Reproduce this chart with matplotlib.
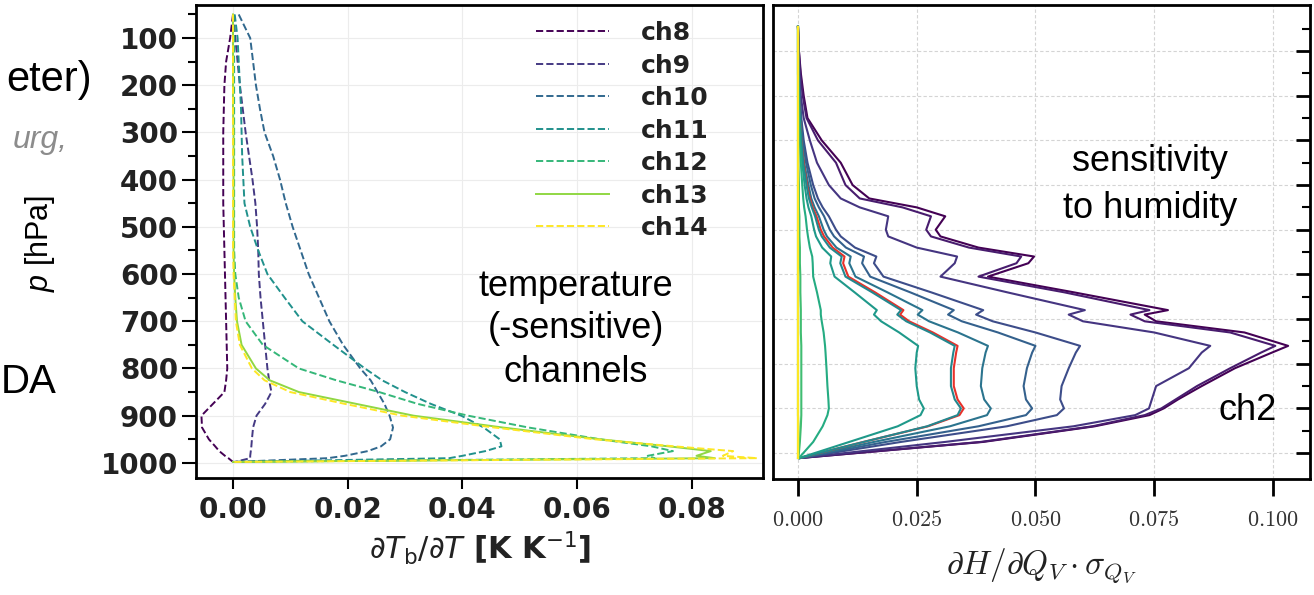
import numpy as np
import matplotlib
matplotlib.use('Agg')
import matplotlib.pyplot as plt
from matplotlib.ticker import FuncFormatter

plt.rcParams['mathtext.fontset'] = 'cm'
plt.rcParams['mathtext.rm'] = 'Liberation Sans'
plt.rcParams['mathtext.it'] = 'Liberation Sans:italic'

# --- temperature jacobians (left) ---
p_temp = [50, 100, 150, 200, 250, 300, 350, 400, 450, 500, 550, 600, 650, 700,
          750, 800, 825, 850, 875, 900, 925, 950, 965, 975, 985, 990, 998]
temp_names = ['ch8', 'ch9', 'ch10', 'ch11', 'ch12', 'ch13', 'ch14']
jac_ch8 = [0.0, -0.0005, -0.0012, -0.0015, -0.0016, -0.0017, -0.0017, -0.0017, -0.0017,
           -0.0016, -0.0015, -0.0014, -0.0013, -0.0012, -0.0011, -0.0010, -0.0012, -0.0015,
           -0.0035, -0.0055, -0.0054, -0.0042, -0.0031, -0.0024, -0.0014, -0.0008, 0.0]
jac_ch9 = [0.0001, 0.0004, 0.0008, 0.0012, 0.0017, 0.0022, 0.0028, 0.0034, 0.0039, 0.0042,
           0.0044, 0.0045, 0.0048, 0.0052, 0.0056, 0.0060, 0.0063, 0.0067, 0.0056, 0.0041,
           0.0035, 0.0033, 0.0032, 0.0031, 0.0030, 0.0030, 0.0003]
jac_ch10 = [0.0010, 0.0030, 0.0035, 0.0040, 0.0047, 0.0055, 0.0070, 0.0082, 0.0092, 0.0104,
            0.0118, 0.0132, 0.0150, 0.0168, 0.0192, 0.0222, 0.0240, 0.0252, 0.0264, 0.0273,
            0.0279, 0.0274, 0.0258, 0.0235, 0.0195, 0.0165, 0.0]
jac_ch11 = [0.0003, 0.0008, 0.0010, 0.0012, 0.0014, 0.0015, 0.0016, 0.0018, 0.0020, 0.0030,
            0.0044, 0.0060, 0.0090, 0.0121, 0.0175, 0.0230, 0.0260, 0.0300, 0.0345, 0.0398,
            0.0437, 0.0465, 0.0468, 0.0440, 0.0400, 0.0377, 0.0]
jac_ch12 = [0.0, 0.0002, 0.0002, 0.0002, 0.0002, 0.0002, 0.0002, 0.0002, 0.0002, 0.0002,
            0.0002, 0.0004, 0.0010, 0.0022, 0.0052, 0.0115, 0.0180, 0.0255, 0.0322, 0.0410,
            0.0515, 0.0640, 0.0730, 0.0767, 0.0723, 0.0735, 0.0]
jac_ch13 = [0.0, 0.0, 0.0, 0.0, 0.0, 0.0001, 0.0001, 0.0001, 0.0001, 0.0001,
            0.0001, 0.0002, 0.0004, 0.0007, 0.0015, 0.0040, 0.0064, 0.0115, 0.0215, 0.0315,
            0.0470, 0.0640, 0.0760, 0.0833, 0.0808, 0.0840, 0.0]
jac_ch14 = [0.0, 0.0, 0.0, 0.0, 0.0, 0.0, 0.0, 0.0, 0.0, 0.0,
            0.0, 0.0001, 0.0003, 0.0005, 0.0012, 0.0033, 0.0055, 0.0100, 0.0195, 0.0295,
            0.0455, 0.0630, 0.0770, 0.0872, 0.0854, 0.0914, 0.0]
temp_jacs = [jac_ch8, jac_ch9, jac_ch10, jac_ch11, jac_ch12, jac_ch13, jac_ch14]

# --- humidity sensitivity (right) ---
p_hum = [46, 100, 150, 200, 250, 300, 350, 400, 430, 450, 470, 500, 515, 540, 560, 575,
         605, 640, 680, 690, 705, 730, 760, 775, 810, 850, 880, 900, 915, 940, 975, 1011]
hum_ch1 = [0.0, 0.0002, 0.0006, 0.0012, 0.0020, 0.0050, 0.0090, 0.0115, 0.0150, 0.0250,
           0.0310, 0.0290, 0.0300, 0.0380, 0.0497, 0.0485, 0.0400, 0.0580, 0.0779, 0.0730,
           0.0754, 0.0940, 0.1032, 0.0998, 0.0920, 0.0850, 0.0800, 0.0770, 0.0740, 0.0625,
           0.0390, 0.0005]
hum_ch2 = [0.0, 0.0002, 0.0005, 0.0010, 0.0018, 0.0042, 0.0080, 0.0100, 0.0130, 0.0220,
           0.0280, 0.0270, 0.0280, 0.0360, 0.0470, 0.0460, 0.0380, 0.0560, 0.0740, 0.0700,
           0.0730, 0.0910, 0.1005, 0.0975, 0.0910, 0.0840, 0.0795, 0.0765, 0.0730, 0.0620,
           0.0385, 0.0005]
hum_ch3 = [0.0, 0.0001, 0.0003, 0.0006, 0.0012, 0.0025, 0.0040, 0.0065, 0.0090, 0.0130,
           0.0190, 0.0185, 0.0190, 0.0250, 0.0335, 0.0330, 0.0300, 0.0440, 0.0604, 0.0570,
           0.0600, 0.0750, 0.0868, 0.0850, 0.0823, 0.0754, 0.0745, 0.0739, 0.0710, 0.0580,
           0.0310, 0.0005]
hum_ch4 = [0.0, 0.0001, 0.0002, 0.0004, 0.0007, 0.0012, 0.0020, 0.0032, 0.0042, 0.0052,
           0.0065, 0.0080, 0.0090, 0.0120, 0.0165, 0.0160, 0.0180, 0.0280, 0.0390, 0.0375,
           0.0410, 0.0500, 0.0594, 0.0585, 0.0570, 0.0555, 0.0552, 0.0560, 0.0545, 0.0440,
           0.0217, 0.0005]
hum_ch5 = [0.0, 0.0001, 0.0002, 0.0003, 0.0006, 0.0010, 0.0017, 0.0027, 0.0035, 0.0044,
           0.0055, 0.0067, 0.0076, 0.0101, 0.0139, 0.0135, 0.0152, 0.0236, 0.0328, 0.0316,
           0.0345, 0.0421, 0.0500, 0.0493, 0.0482, 0.0475, 0.0480, 0.0493, 0.0480, 0.0380,
           0.0185, 0.0004]
hum_ch6 = [0.0, 0.0001, 0.0001, 0.0003, 0.0005, 0.0008, 0.0013, 0.0022, 0.0028, 0.0035,
           0.0044, 0.0054, 0.0061, 0.0081, 0.0111, 0.0108, 0.0121, 0.0188, 0.0262, 0.0252,
           0.0276, 0.0337, 0.0400, 0.0395, 0.0388, 0.0385, 0.0392, 0.0406, 0.0398, 0.0320,
           0.0160, 0.0004]
hum_ch7 = [0.0, 0.0001, 0.0001, 0.0002, 0.0004, 0.0007, 0.0011, 0.0018, 0.0023, 0.0029,
           0.0036, 0.0044, 0.0050, 0.0067, 0.0092, 0.0089, 0.0100, 0.0156, 0.0217, 0.0209,
           0.0228, 0.0278, 0.0330, 0.0327, 0.0322, 0.0322, 0.0330, 0.0343, 0.0336, 0.0272,
           0.0138, 0.0003]
hum_ch8 = [0.0, 0.0, 0.0001, 0.0002, 0.0003, 0.0005, 0.0009, 0.0014, 0.0018, 0.0022,
           0.0028, 0.0034, 0.0038, 0.0051, 0.0070, 0.0068, 0.0077, 0.0119, 0.0166, 0.0160,
           0.0175, 0.0213, 0.0253, 0.0250, 0.0247, 0.0250, 0.0255, 0.0265, 0.0258, 0.0210,
           0.0108, 0.0003]
hum_ch9 = [0.0, 0.0, 0.0, 0.0001, 0.0002, 0.0004, 0.0006, 0.0009, 0.0011, 0.0013,
           0.0016, 0.0019, 0.0021, 0.0025, 0.0030, 0.0031, 0.0032, 0.0040, 0.0048, 0.0048,
           0.0050, 0.0054, 0.0057, 0.0058, 0.0060, 0.0062, 0.0064, 0.0065, 0.0062, 0.0052,
           0.0032, 0.0002]
hum_ch10 = [0.0, 0.0, 0.0, 0.0, 0.0001, 0.0001, 0.0001, 0.0002, 0.0002, 0.0002,
            0.0003, 0.0003, 0.0003, 0.0004, 0.0004, 0.0004, 0.0005, 0.0005, 0.0006, 0.0006,
            0.0006, 0.0006, 0.0007, 0.0007, 0.0007, 0.0007, 0.0007, 0.0007, 0.0007, 0.0006,
            0.0004, 0.0001]
hum_ch11 = [0.0] * 29 + [0.0001, 0.0001, 0.0]
hum_ch12 = [0.0] * 32
hum_ch13 = [0.0] * 32
hum_ch14 = [0.0] * 32
hum_profiles = [hum_ch1, hum_ch2, hum_ch3, hum_ch4, hum_ch5, hum_ch6, hum_ch7,
                hum_ch8, hum_ch9, hum_ch10, hum_ch11, hum_ch12, hum_ch13, hum_ch14]
# reference profile drawn in red, close to ch7
hum_ref = [0.0, 0.0001, 0.0001, 0.0002, 0.0004, 0.0007, 0.0012, 0.0019, 0.0025, 0.0031,
           0.0039, 0.0048, 0.0055, 0.0073, 0.0098, 0.0095, 0.0106, 0.0162, 0.0222, 0.0215,
           0.0234, 0.0284, 0.0336, 0.0333, 0.0328, 0.0328, 0.0336, 0.0349, 0.0340, 0.0274,
           0.0138, 0.0003]

W, H = 1314, 595


def fx(x):
    return x / W


def fy(y):
    return 1 - y / H


fig = plt.figure(figsize=(W / 100, H / 100), dpi=100)
ax1 = fig.add_axes([fx(196), fy(478), (763 - 196) / W, (478 - 5) / H])
ax2 = fig.add_axes([fx(773), fy(479), (1310 - 773) / W, (479 - 5) / H])

# left panel
cols_t = plt.cm.viridis(np.linspace(0, 1, len(temp_names)))
for name, vals, c in zip(temp_names, temp_jacs, cols_t):
    ls = '-' if name == 'ch13' else '--'
    ax1.plot(vals, p_temp, ls=ls, color=c, lw=1.4, label=name)

ax1.set_xlim(-0.00645, 0.0924)
ax1.set_ylim(1032, 30)
ax1.set_xticks([0, 0.02, 0.04, 0.06, 0.08])
ax1.xaxis.set_major_formatter(FuncFormatter(lambda v, _: f'{round(v, 4) + 0.0:.2f}'))
ax1.set_yticks(np.arange(100, 1001, 100))
ax1.set_yticks(np.arange(50, 1001, 50), minor=True)
ax1.grid(True, color='#ececec', lw=0.8)
ax1.set_axisbelow(True)
for s in ax1.spines.values():
    s.set_linewidth(2)
ax1.tick_params(axis='y', which='major', length=10, width=1.5, pad=3,
                labelsize=20, labelcolor='#222222')
ax1.tick_params(axis='y', which='minor', length=6, width=1.5)
ax1.tick_params(axis='x', length=8, width=1.5, pad=5, labelsize=20, labelcolor='#222222')
for lab in ax1.get_xticklabels() + ax1.get_yticklabels():
    lab.set_fontweight('bold')
ax1.set_xlabel(r'$\partial T_\mathrm{b}/\partial T$ [K K$^{-1}$]', fontsize=22,
               fontweight='bold', color='#222222', labelpad=4, math_fontfamily='dejavusans')
ax1.legend(loc='upper left', bbox_to_anchor=(0.6, 0.966), frameon=False,
           handlelength=2.9, handletextpad=1.3, labelspacing=0.34, borderaxespad=0,
           borderpad=0, prop={'weight': 'bold', 'size': 18}, labelcolor='#222222')

# right panel
cols_h = plt.cm.viridis(np.linspace(0, 1, len(hum_profiles)))
for i, (vals, c) in enumerate(zip(hum_profiles, cols_h)):
    if i == 6:
        ax2.plot(hum_ref, p_hum, color='#e8312a', lw=1.5)
    ax2.plot(vals, p_hum, color=c, lw=1.5)

ax2.set_xlim(-0.00526, 0.1078)
ax2.set_ylim(1058, -3)
ax2.set_xticks([0, 0.025, 0.05, 0.075, 0.1])
ax2.xaxis.set_major_formatter(FuncFormatter(lambda v, _: f'${v:.3f}$'))
ax2.set_yticks(np.arange(100, 1001, 100))
ax2.set_yticks(np.arange(50, 1001, 50), minor=True)
ax2.yaxis.tick_right()
ax2.grid(True, color='#d4d4d4', ls=(0, (3, 2)), lw=0.8)
ax2.set_axisbelow(True)
for s in ax2.spines.values():
    s.set_linewidth(2)
ax2.tick_params(axis='x', length=12, width=2, pad=10, labelsize=16, labelcolor='#333333')
ax2.tick_params(axis='y', which='major', direction='in', length=10, width=2,
                labelright=False)
ax2.tick_params(axis='y', which='minor', direction='in', length=6, width=1.5,
                labelright=False)
ax2.set_xlabel(r'$\partial H/\partial Q_V\cdot\sigma_{Q_V}$', fontsize=24,
               color='#222222', labelpad=12)

# labels and notes
txt = dict(family='Liberation Sans', color='black')
fig.text(fx(40), fy(243), r'$p$ [hPa]', rotation=90, ha='center', va='center',
         fontsize=22, math_fontfamily='custom', **txt)
fig.text(fx(576), fy(286), 'temperature', ha='center', va='center', fontsize=26, **txt)
fig.text(fx(576), fy(329), '(-sensitive)', ha='center', va='center', fontsize=26, **txt)
fig.text(fx(576), fy(372), 'channels', ha='center', va='center', fontsize=26, **txt)
fig.text(fx(1150), fy(162), 'sensitivity', ha='center', va='center', fontsize=26, **txt)
fig.text(fx(1150), fy(208), 'to humidity', ha='center', va='center', fontsize=26, **txt)
fig.text(fx(1248), fy(410), 'ch2', ha='center', va='center', fontsize=26, **txt)

fig.text(fx(92), fy(80), 'eter)', ha='right', va='center', fontsize=30, **txt)
fig.text(fx(68), fy(140), 'urg,', ha='right', va='center', fontsize=23, style='italic',
         family='Liberation Sans', color='#8c8c8c')
fig.text(fx(57), fy(382), 'DA', ha='right', va='center', fontsize=29, **txt)

fig.savefig('out.png', dpi=100)
